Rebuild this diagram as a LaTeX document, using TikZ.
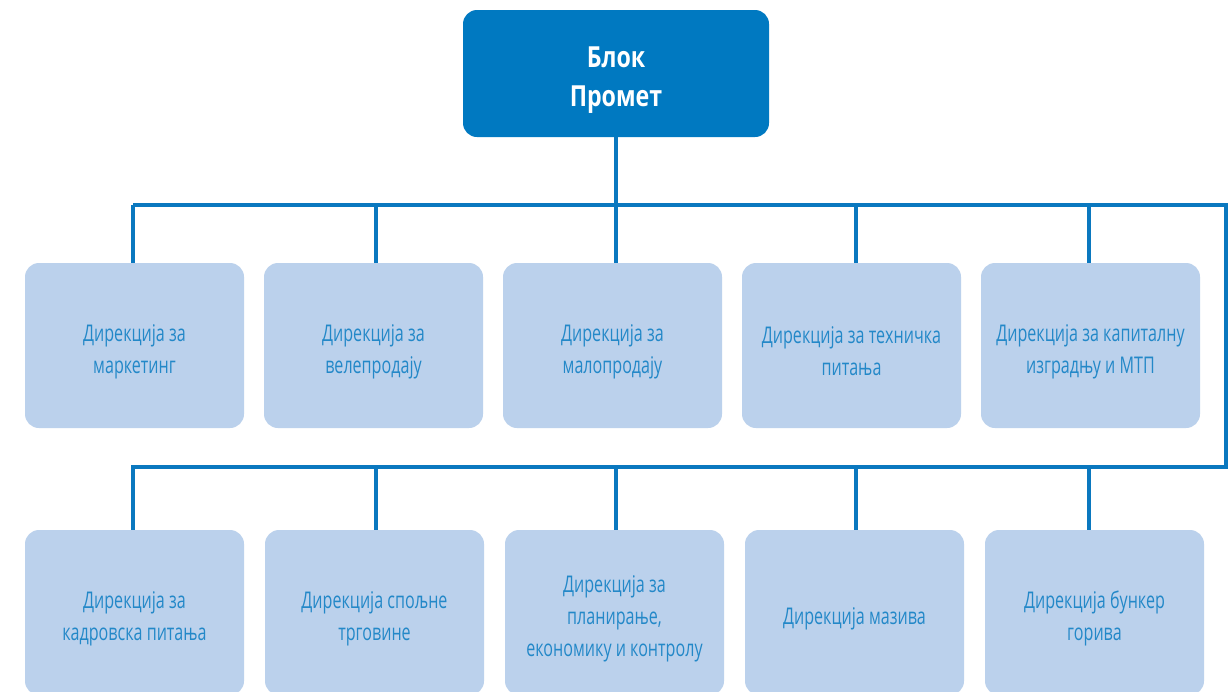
\documentclass[tikz,border=0pt]{standalone}
\usepackage{fontspec}
\setmainfont{Open Sans}
\newfontfamily\boxfont[FakeStretch=0.70]{Open Sans}
\newfontfamily\titlefont[FakeStretch=0.80]{Open Sans}
\definecolor{topblue}{HTML}{0079C1}
\definecolor{linkblue}{HTML}{0A78BF}
\definecolor{lightbox}{HTML}{BBD1EC}
\definecolor{boxtext}{HTML}{2388C8}
\tikzset{
  topbox/.style={draw=none, fill=topblue, rounded corners=14pt, minimum width=306pt, minimum height=127pt, inner sep=0pt},
  toptext/.style={align=center, text=white, font=\titlefont\bfseries\fontsize{29}{39}\selectfont, inner sep=0pt},
  dirbox/.style={draw=none, fill=lightbox, rounded corners=14pt, minimum width=219pt, minimum height=165pt, inner sep=0pt},
  dirtext/.style={align=center, text=boxtext, font=\boxfont\fontsize{23}{32}\selectfont, inner sep=0pt},
  link/.style={draw=linkblue, line width=3.2pt}
}
\begin{document}
\begin{tikzpicture}[x=1pt,y=-1pt]
\useasboundingbox (0,0) rectangle (1230,691);
\clip (0,0) rectangle (1230,691);
\fill[white] (0,0) rectangle (1230,691);
% top box
\node[topbox] (top) at (616,73.5) {};
\node[toptext, yshift=-7pt] (topT) at (top.center) {Блок\\Промет};
% row 1
\node[dirbox] (a1) at (134.5,345.5) {};
\node[dirbox] (a2) at (373.5,345.5) {};
\node[dirbox] (a3) at (612.5,345.5) {};
\node[dirbox] (a4) at (851.5,345.5) {};
\node[dirbox] (a5) at (1090.5,345.5) {};
\node[dirtext, yshift=-6pt] (a1t) at (a1.center) {Дирекција за\\маркетинг};
\node[dirtext, yshift=-6pt] (a2t) at (a2.center) {Дирекција за\\велепродају};
\node[dirtext, yshift=-6pt] (a3t) at (a3.center) {Дирекција за\\малопродају};
\node[dirtext, yshift=-6pt] (a4t) at (a4.center) {Дирекција за техничка\\питања};
\node[dirtext, yshift=-6pt] (a5t) at (a5.center) {Дирекција за капиталну\\изградњу и МТП};
% row 2
\node[dirbox] (b1) at (134.5,612.5) {};
\node[dirbox] (b2) at (374.5,612.5) {};
\node[dirbox] (b3) at (614.5,612.5) {};
\node[dirbox] (b4) at (854.5,612.5) {};
\node[dirbox] (b5) at (1094.5,612.5) {};
\node[dirtext, yshift=-6pt] (b1t) at (b1.center) {Дирекција за\\кадровска питања};
\node[dirtext, yshift=-6pt] (b2t) at (b2.center) {Дирекција спољне\\трговине};
\node[dirtext, yshift=-6pt] (b3t) at (b3.center) {Дирекција за\\планирање,\\економику и контролу};
\node[dirtext, yshift=-6pt] (b4t) at (b4.center) {Дирекција мазива};
\node[dirtext, yshift=-6pt] (b5t) at (b5.center) {Дирекција бункер\\горива};
% bus points
\coordinate (busA) at (133,205);
\coordinate (busR1) at (1226,205);
\coordinate (busR2) at (1226,467);
\coordinate (busB) at (133,467);
% connectors
\draw[link] (top.south) -- (top.south |- busA);
\draw[link] (busA) -- (busR1) -- (busR2) -- (busB) -- (b1.north -| busB);
\draw[link] (busA) -- (a1.north -| busA);
\draw[link] ([xshift=2.5pt]a2.north) -- ([xshift=2.5pt]a2.north |- busA);
\draw[link] ([xshift=3.5pt]a3.north) -- ([xshift=3.5pt]a3.north |- busA);
\draw[link] ([xshift=4.5pt]a4.north) -- ([xshift=4.5pt]a4.north |- busA);
\draw[link] ([xshift=-1.5pt]a5.north) -- ([xshift=-1.5pt]a5.north |- busA);
\draw[link] ([xshift=1.5pt]b2.north) -- ([xshift=1.5pt]b2.north |- busB);
\draw[link] ([xshift=1.5pt]b3.north) -- ([xshift=1.5pt]b3.north |- busB);
\draw[link] ([xshift=1.5pt]b4.north) -- ([xshift=1.5pt]b4.north |- busB);
\draw[link] ([xshift=-5.5pt]b5.north) -- ([xshift=-5.5pt]b5.north |- busB);
\end{tikzpicture}
\end{document}
